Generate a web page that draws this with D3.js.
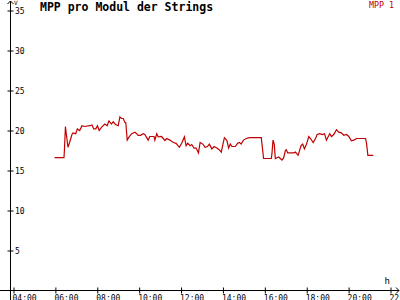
<!DOCTYPE html>
<html>
<head>
<meta charset="utf-8">
<script src="https://cdn.jsdelivr.net/npm/d3@7"></script>
<style>
    body { margin: 0; background: #fff; }
    svg { display: block; }
    text { font-family: "DejaVu Sans Mono", monospace; }
</style>
</head>
<body>
<div id="container"></div>
<script>
// time of day in decimal hours
const hours = [
    5.96, 6.41, 6.43, 6.48, 6.52, 6.60, 6.68, 6.79, 6.84, 6.97,
    7.05, 7.16, 7.27, 7.40, 7.64, 7.75, 7.83, 7.93, 8.01, 8.09,
    8.20, 8.36, 8.47, 8.56, 8.68, 8.76, 8.87, 9.00, 9.08, 9.16,
    9.24, 9.32, 9.36, 9.43, 9.52, 9.64, 9.80, 9.88, 9.95, 10.07,
    10.19, 10.27, 10.43, 10.51, 10.71, 10.75, 10.84, 10.91, 11.07, 11.23,
    11.31, 11.47, 11.63, 11.76, 11.92, 12.03, 12.16, 12.24, 12.32, 12.43,
    12.51, 12.62, 12.72, 12.83, 12.91, 13.04, 13.15, 13.26, 13.35, 13.47,
    13.58, 13.71, 13.82, 13.92, 14.00, 14.07, 14.19, 14.27, 14.35, 14.43,
    14.59, 14.70, 14.79, 14.87, 14.98, 15.11, 15.27, 15.83, 15.94, 16.31,
    16.34, 16.39, 16.45, 16.50, 16.58, 16.66, 16.74, 16.82, 16.90, 16.98,
    17.03, 17.09, 17.22, 17.38, 17.46, 17.59, 17.67, 17.73, 17.81, 17.89,
    17.99, 18.10, 18.18, 18.31, 18.42, 18.50, 18.62, 18.74, 18.85, 18.94,
    19.03, 19.10, 19.18, 19.29, 19.42, 19.53, 19.65, 19.77, 19.90, 20.01,
    20.13, 20.25, 20.38, 20.81, 20.86, 20.92, 21.18
]
// MPP 1 voltage (V)
const mpp1 = [
    16.6, 16.6, 17.5, 20.5, 19.6, 17.9, 18.5, 19.5, 19.7, 19.6,
    20.2, 20.0, 20.6, 20.5, 20.6, 20.7, 20.2, 20.2, 20.6, 20.0,
    20.4, 20.8, 20.6, 21.2, 20.8, 21.1, 20.75, 20.6, 21.7, 21.5,
    21.5, 21.0, 21.0, 18.8, 19.2, 19.6, 19.8, 19.6, 19.4, 19.4,
    19.6, 19.5, 18.8, 19.25, 19.25, 18.8, 19.6, 19.2, 19.25, 18.75,
    19.0, 18.8, 18.5, 18.4, 17.9, 18.4, 19.2, 18.1, 18.4, 18.1,
    18.25, 17.8, 17.8, 17.2, 18.5, 18.3, 17.9, 18.0, 18.3, 17.7,
    18.0, 17.8, 17.6, 17.3, 18.3, 19.1, 18.75, 17.8, 18.3, 18.0,
    18.0, 18.4, 18.5, 18.3, 18.8, 19.0, 19.1, 19.1, 16.5, 16.5,
    17.1, 18.8, 18.3, 16.5, 16.6, 16.7, 16.5, 16.3, 16.6, 17.5,
    17.6, 17.2, 17.2, 17.2, 17.3, 16.9, 17.6, 18.1, 18.3, 17.7,
    18.3, 19.25, 19.0, 18.5, 19.0, 19.5, 19.6, 19.5, 19.6, 18.8,
    19.25, 19.6, 19.25, 19.5, 20.1, 19.8, 19.7, 19.4, 19.5, 19.25,
    18.7, 18.8, 19.0, 19.0, 18.3, 16.9, 16.9
]
const yTicks = [5, 10, 15, 20, 25, 30, 35]
const xTickHours = [4, 6, 8, 10, 12, 14, 16, 18, 20, 22]
const xTickLabels = ["04:00", "06:00", "08:00", "10:00", "12:00", "14:00", "16:00", "18:00", "20:00", "22:00"]

const WIDTH = 400
const HEIGHT = 300
const AXIS_X = 10.5
const AXIS_Y = 290.5
const RED = "#c00000"

const data = hours.map((h, i) => ({ h: h, v: mpp1[i] }))

const x = d3.scaleLinear().domain([4, 22]).range([13.5, 390.5])
const y = d3.scaleLinear().domain([0, 35]).range([AXIS_Y, 10.5])

const svg = d3.select("#container")
    .append("svg")
    .attr("width", WIDTH)
    .attr("height", HEIGHT)

/* TITLE + LEGEND */
svg.append("text")
    .attr("x", 40)
    .attr("y", 11)
    .style("font-size", "11.5px")
    .style("font-weight", "bold")
    .attr("fill", "#000")
    .text("MPP pro Modul der Strings")

svg.append("text")
    .attr("x", 394)
    .attr("y", 7.5)
    .attr("text-anchor", "end")
    .style("font-size", "8.3px")
    .attr("fill", RED)
    .text("MPP 1")

/* Y AXIS */
const yAxis = svg.append("g")
    .attr("transform", `translate(${AXIS_X}, 0)`)
    .call(d3.axisRight(y).tickValues(yTicks).tickSize(3).tickPadding(2))
yAxis.select(".domain").remove()
yAxis.selectAll(".tick line").attr("x1", -3).attr("x2", 3).attr("stroke", "#000")
yAxis.selectAll(".tick text")
    .attr("x", 4.5)
    .attr("dy", "0.35em")
    .style("font-family", "DejaVu Sans Mono, monospace")
    .style("font-size", "8px")
    .attr("fill", "#000")

/* X AXIS */
const xAxis = svg.append("g")
    .attr("transform", `translate(0, ${AXIS_Y})`)
    .call(d3.axisBottom(x)
        .tickValues(xTickHours)
        .tickFormat((d, i) => xTickLabels[i]))
xAxis.select(".domain").remove()
xAxis.selectAll(".tick line").attr("y1", -3).attr("y2", 3).attr("stroke", "#000")
xAxis.selectAll(".tick text")
    .attr("text-anchor", "start")
    .attr("x", -1.5)
    .attr("y", 10.5)
    .attr("dy", 0)
    .style("font-family", "DejaVu Sans Mono, monospace")
    .style("font-size", "8px")
    .attr("fill", "#000")

/* AXIS LINES WITH ARROWS */
svg.append("line")
    .attr("x1", AXIS_X).attr("x2", AXIS_X)
    .attr("y1", 1).attr("y2", HEIGHT)
    .attr("stroke", "#000")
svg.append("path")
    .attr("d", `M${AXIS_X - 3},4 L${AXIS_X},1 L${AXIS_X + 3},4`)
    .attr("fill", "none")
    .attr("stroke", "#000")
svg.append("line")
    .attr("x1", 0).attr("x2", 399)
    .attr("y1", AXIS_Y).attr("y2", AXIS_Y)
    .attr("stroke", "#000")
svg.append("path")
    .attr("d", `M396,${AXIS_Y - 3} L399,${AXIS_Y} L396,${AXIS_Y + 3}`)
    .attr("fill", "none")
    .attr("stroke", "#000")

/* UNIT LABELS */
svg.append("text")
    .attr("x", 14)
    .attr("y", 5)
    .style("font-size", "6px")
    .attr("fill", "#000")
    .text("V")
svg.append("text")
    .attr("x", 384.5)
    .attr("y", 284)
    .style("font-size", "9px")
    .attr("fill", "#000")
    .text("h")

/* LINE PATH */
svg.append("path")
    .datum(data)
    .attr("fill", "none")
    .attr("stroke", RED)
    .attr("stroke-width", 1.2)
    .attr("d", d3.line()
        .x(d => x(d.h))
        .y(d => y(d.v)))
</script>
</body>
</html>
